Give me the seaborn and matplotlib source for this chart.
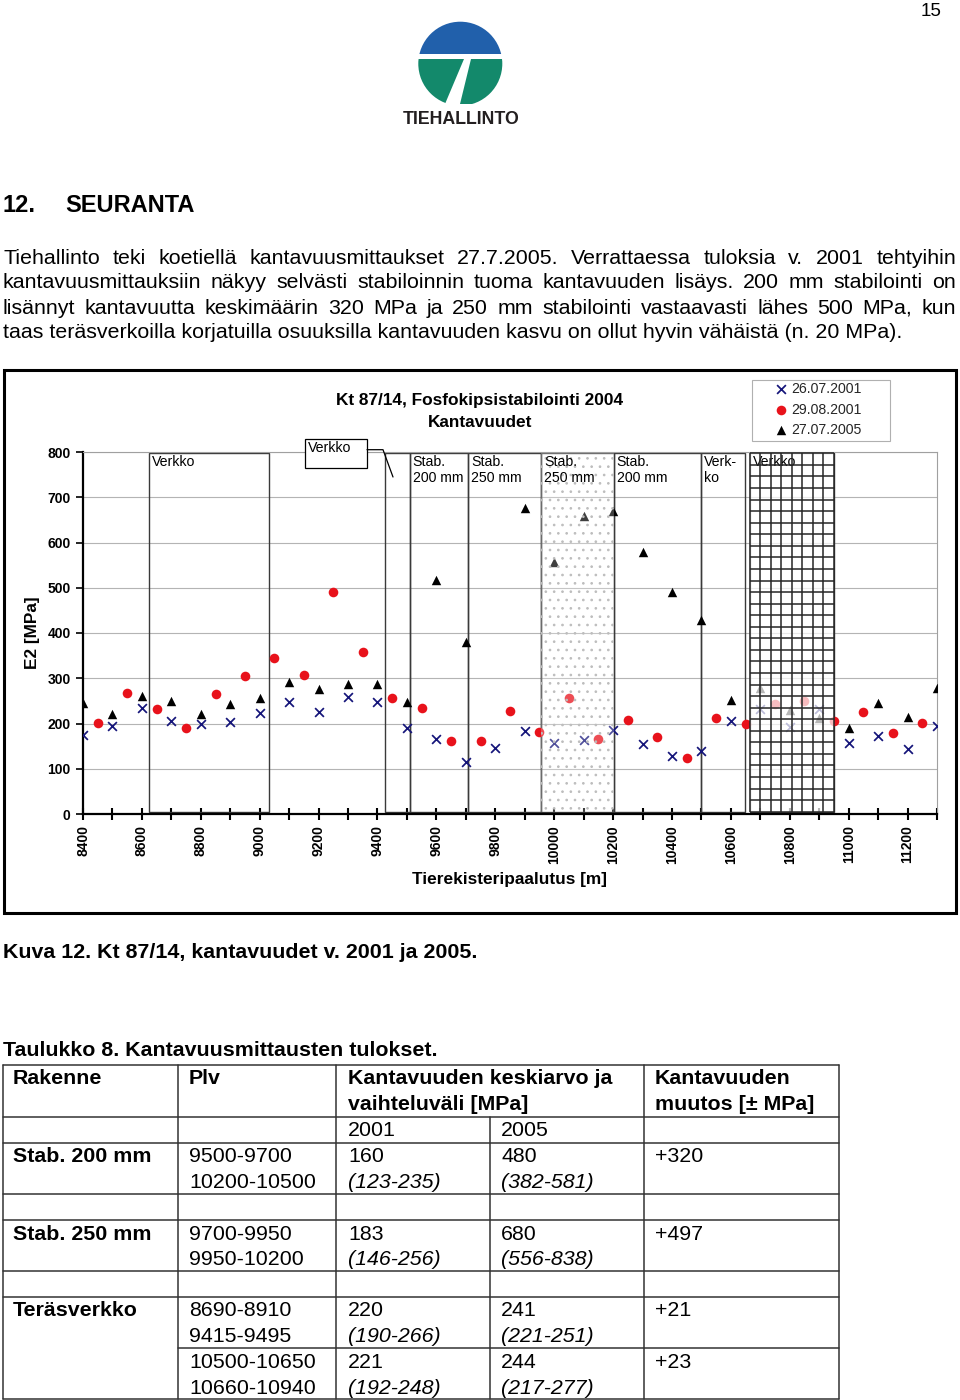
import matplotlib
matplotlib.use("Agg")
import matplotlib.pyplot as plt
from matplotlib.patches import Rectangle, Circle, Polygon
import numpy as np
import seaborn as sns

# --- kantavuusmittaukset, luettu kuvasta (paalu [m], E2 [MPa]) ---
stations_2001a = [8400, 8500, 8600, 8700, 8800, 8900, 9000, 9100, 9200, 9300,
                  9400, 9500, 9600, 9700, 9800, 9900, 10000, 10100, 10200, 10300,
                  10400, 10500, 10600, 10700, 10800, 10900, 11000, 11100, 11200, 11300]
e2_2001a = [175, 195, 235, 206, 200, 203, 224, 247, 226, 258,
            247, 189, 166, 116, 145, 184, 158, 163, 186, 155,
            128, 139, 206, 231, 192, 232, 156, 173, 143, 194]

stations_2001b = [8450, 8550, 8650, 8750, 8850, 8950, 9050, 9150, 9250, 9350,
                  9450, 9550, 9650, 9750, 9850, 9950, 10050, 10150, 10250, 10350,
                  10450, 10550, 10650, 10750, 10850, 10950, 11050, 11150, 11250]
e2_2001b = [202, 267, 233, 190, 266, 305, 345, 307, 490, 359,
            257, 235, 161, 162, 227, 182, 256, 165, 208, 170,
            123, 213, 199, 243, 250, 205, 225, 179, 201]

stations_2005 = [8400, 8500, 8600, 8700, 8800, 8900, 9000, 9100, 9200, 9300,
                 9400, 9500, 9600, 9700, 9900, 10000, 10100, 10200, 10300, 10400,
                 10500, 10600, 10700, 10800, 10900, 11000, 11100, 11200, 11300]
e2_2005 = [246, 222, 260, 250, 221, 242, 256, 291, 276, 287,
           287, 248, 517, 381, 677, 556, 659, 670, 580, 490,
           429, 253, 278, 230, 213, 189, 245, 214, 278]

series_labels = ["26.07.2001", "29.08.2001", "27.07.2005"]

# rakenneosuudet kuvassa
section_spans = [(8624, 9030), (9426, 9509), (9509, 9709), (9709, 9956),
                 (9956, 10202), (10202, 10500), (10500, 10647), (10664, 10949)]
section_labels = ["Verkko", "", "Stab.\n200 mm", "Stab.\n250 mm", "Stab.\n250 mm",
                  "Stab.\n200 mm", "Verk-\nko", "Verkko"]
section_fills = ["", "", "", "", "dots", "", "", "grid"]

x_major = [8400, 8600, 8800, 9000, 9200, 9400, 9600, 9800, 10000, 10200,
           10400, 10600, 10800, 11000, 11200]
x_minor = [8500, 8700, 8900, 9100, 9300, 9500, 9700, 9900, 10100, 10300,
           10500, 10700, 10900, 11100, 11300]
y_ticks = [0, 100, 200, 300, 400, 500, 600, 700, 800]

paragraph = [
    "Tiehallinto teki koetiellä kantavuusmittaukset 27.7.2005. Verrattaessa tuloksia v. 2001 tehtyihin",
    "kantavuusmittauksiin näkyy selvästi stabiloinnin tuoma kantavuuden lisäys. 200 mm stabilointi on",
    "lisännyt kantavuutta keskimäärin 320 MPa ja 250 mm stabilointi vastaavasti lähes 500 MPa, kun",
    "taas teräsverkoilla korjatuilla osuuksilla kantavuuden kasvu on ollut hyvin vähäistä (n. 20 MPa).",
]

# taulukko 8
table_header = [["Rakenne"], ["Plv"], ["Kantavuuden keskiarvo ja", "vaihteluväli [MPa]"],
                ["Kantavuuden", "muutos [\u00b1 MPa]"]]
table_rows = [
    ("Stab. 200 mm", ["9500-9700", "10200-10500"], ["160", "(123-235)"], ["480", "(382-581)"], "+320"),
    ("Stab. 250 mm", ["9700-9950", "9950-10200"], ["183", "(146-256)"], ["680", "(556-838)"], "+497"),
    ("Teräsverkko", ["8690-8910", "9415-9495"], ["220", "(190-266)"], ["241", "(221-251)"], "+21"),
    ("", ["10500-10650", "10660-10940"], ["221", "(192-248)"], ["244", "(217-277)"], "+23"),
]

sns.set_theme(style="white")
plt.rcParams["font.family"] = ["Liberation Sans", "DejaVu Sans"]
plt.rcParams["hatch.linewidth"] = 0.7

W, H = 960, 1400
fig = plt.figure(figsize=(W / 100, H / 100), dpi=100, facecolor="white")


def frac(x0, y0, x1, y1):
    return [x0 / W, 1 - y1 / H, (x1 - x0) / W, (y1 - y0) / H]


ax = fig.add_axes(frac(83, 452, 937, 814), zorder=1)
page = fig.add_axes([0, 0, 1, 1], zorder=2)
page.set_xlim(0, W)
page.set_ylim(H, 0)
page.axis("off")
page.patch.set_alpha(0)

# ---------------- chart ----------------
ax.set_xlim(8400, 11300)
ax.set_ylim(0, 800)
ax.set_facecolor("white")
ax.set_axisbelow(True)
ax.yaxis.grid(True, color="#b4b4b4", lw=0.8)

sns.scatterplot(x=stations_2001a, y=e2_2001a, marker="x", color="#15157a", s=40,
                linewidth=1.25, label=series_labels[0], ax=ax, zorder=3, legend=False)
sns.scatterplot(x=stations_2001b, y=e2_2001b, marker="o", color="#e8121b", s=48,
                linewidth=0, label=series_labels[1], ax=ax, zorder=3, legend=False)
sns.scatterplot(x=stations_2005, y=e2_2005, marker="^", color="black", s=46,
                linewidth=0, label=series_labels[2], ax=ax, zorder=3, legend=False)

box_bottom, box_top = 5, 797
for (x0, x1), lab, fill in zip(section_spans, section_labels, section_fills):
    if fill == "dots":
        ax.add_patch(Rectangle((x0, box_bottom), x1 - x0, box_top - box_bottom,
                               facecolor=(1, 1, 1, 0.25), edgecolor="#bdbdbd",
                               hatch="..", lw=0, zorder=4))
    if fill == "grid":
        ax.add_patch(Rectangle((x0, box_bottom), x1 - x0, box_top - box_bottom,
                               facecolor=(1, 1, 1, 0.72), edgecolor="none", zorder=4))
        ax.vlines(np.linspace(x0, x1, 9), box_bottom, box_top, color="#262626", lw=1.1, zorder=6)
        ax.hlines(np.linspace(box_bottom, box_top, 32), x0, x1, color="#262626", lw=1.1, zorder=6)
    ax.add_patch(Rectangle((x0, box_bottom), x1 - x0, box_top - box_bottom,
                           fill=False, edgecolor="#3a3a3a", lw=1.0, zorder=2))
    if lab:
        ax.text(x0 + 10, 794, lab, fontsize=10.2, ha="left", va="top",
                linespacing=1.2, color="black", zorder=5)

ax.set_xticks(x_major)
ax.set_xticks(x_minor, minor=True)
ax.set_xticklabels([str(v) for v in x_major], rotation=90, fontsize=10, fontweight="bold")
ax.set_yticks(y_ticks)
ax.set_yticklabels([str(v) for v in y_ticks], fontsize=10, fontweight="bold")
ax.tick_params(axis="x", which="both", direction="inout", length=8, width=1.5,
               color="black", bottom=True, pad=4, labelcolor="black")
ax.tick_params(axis="y", direction="out", length=5, width=1.2, color="black",
               left=True, pad=4, labelcolor="black")
for s in ["top", "right"]:
    ax.spines[s].set_color("#a0a0a0")
    ax.spines[s].set_linewidth(0.8)
for s in ["left", "bottom"]:
    ax.spines[s].set_color("black")
    ax.spines[s].set_linewidth(1.6)

ax.set_xlabel("Tierekisteripaalutus [m]", fontsize=12.4, fontweight="bold", color="black")
ax.set_ylabel("E2 [MPa]", fontsize=12.4, fontweight="bold", color="black")
ax.xaxis.set_label_coords(0.5, -0.159)
ax.yaxis.set_label_coords(-0.0503, 0.5)

handles, labels = ax.get_legend_handles_labels()
fig.legend(handles, labels, loc="upper left", bbox_to_anchor=(777 / W, 1 - 382 / H),
           frameon=False, fontsize=10.2, handlelength=0.6, handletextpad=0.4,
           labelspacing=0.46, borderpad=0, borderaxespad=0, scatterpoints=1)

# ---------------- page ----------------
def put(x, y, s, size=15.4, weight="normal", style="normal", ha="left", va="center", **kw):
    return page.text(x, y, s, fontsize=size, fontweight=weight, fontstyle=style,
                     ha=ha, va=va, color="black", **kw)


put(931, 12, "15", size=13.5, ha="center")

# logo
blue = Circle((460.3, 63.7), 42, color="#2160ab", lw=0)
page.add_patch(blue)
blue.set_clip_path(Rectangle((400, 0), 120, 54.3, transform=page.transData))
green = Circle((460.3, 63.7), 42, color="#13896b", lw=0)
page.add_patch(green)
green.set_clip_path(Rectangle((400, 59.3), 120, 44.2, transform=page.transData))
page.add_patch(Polygon([(464, 59), (471, 59), (460, 104), (445, 104)], closed=True,
                       color="white", lw=0))
page.text(461, 120, "TIEHALLINTO", fontsize=12.8, fontweight="bold",
          ha="center", va="center", color="#231f20")

put(3, 205, "12.", size=17, weight="bold")
put(65, 205, "SEURANTA", size=17, weight="bold")

renderer = fig.canvas.get_renderer()


def justify(y, line, x0=3, x1=956):
    words = line.split()
    arts = [put(0, y, w) for w in words]
    widths = [a.get_window_extent(renderer).width for a in arts]
    gap = (x1 - x0 - sum(widths)) / (len(words) - 1)
    x = x0
    for a, w in zip(arts, widths):
        a.set_x(x)
        x += w + gap


para_y = [258, 283, 308, 333]
for i, (y, line) in enumerate(zip(para_y, paragraph)):
    if i < len(paragraph) - 1:
        justify(y, line)
    else:
        put(3, y, line)

# chart frame, title, legend box, callout
page.add_patch(Rectangle((3.5, 370), 952.5, 543, fill=False, edgecolor="black", lw=2.2))
put(480, 401, "Kt 87/14, Fosfokipsistabilointi 2004", size=12.4, weight="bold", ha="center")
put(480, 422.5, "Kantavuudet", size=12.4, weight="bold", ha="center")
page.add_patch(Rectangle((752, 380), 138, 61, fill=False, edgecolor="#b0b0b0", lw=0.8))
page.add_patch(Rectangle((305, 439), 62, 29, facecolor="white", edgecolor="black", lw=0.9))
put(308, 448, "Verkko", size=10.2)
page.plot([367, 383, 393], [449.7, 449.7, 477], color="black", lw=0.9)

# caption and table
put(3, 952, "Kuva 12. Kt 87/14, kantavuudet v. 2001 ja 2005.", weight="bold")
put(3, 1051, "Taulukko 8. Kantavuusmittausten tulokset.", weight="bold")

col_x = [2.7, 177.7, 335.7, 490, 644, 839]
row_y = [1065, 1117.3, 1142.7, 1194, 1220, 1271, 1297.3, 1348.3, 1399.3]
lc = dict(color="#333333", lw=1.1)
for y in row_y:
    x_start = col_x[1] if y == 1348.3 else col_x[0]
    page.plot([x_start, col_x[-1]], [y, y], **lc)
for x in col_x:
    y_start = row_y[1] if x == 490 else row_y[0]
    page.plot([x, x], [y_start, row_y[-1]], **lc)

text_x = [13, 189, 348, 501, 655]
hdr_x = [13, 189, 348, 655]
for x, lines in zip(hdr_x, table_header):
    for k, s in enumerate(lines):
        put(x, 1078.5 + 26 * k, s, weight="bold")
put(348, 1130.5, "2001")
put(501, 1130.5, "2005")

row_top = [1156.5, 1234, 1311, 1362.5]
for y, (rak, plv, v01, v05, muutos) in zip(row_top, table_rows):
    if rak:
        put(text_x[0], y, rak, weight="bold")
    for k in range(2):
        put(text_x[1], y + 25.5 * k, plv[k])
        put(text_x[2], y + 25.5 * k, v01[k], style="italic" if k else "normal")
        put(text_x[3], y + 25.5 * k, v05[k], style="italic" if k else "normal")
    put(text_x[4], y, muutos)

fig.savefig("out.png", dpi=100, facecolor="white")
